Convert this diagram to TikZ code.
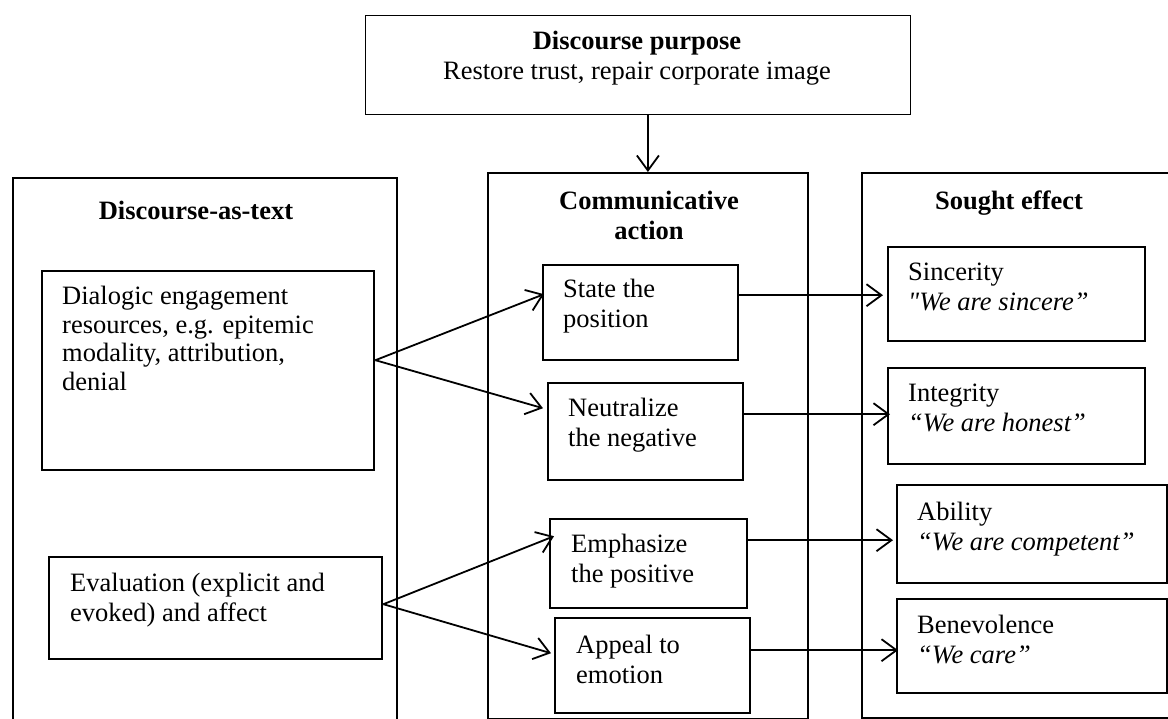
\documentclass[tikz,border=0pt]{standalone}
\usepackage{fontspec}
\setmainfont{Liberation Serif}
\newfontfamily\rawserif{Liberation Serif}
\usetikzlibrary{arrows.meta,calc}
\newcommand{\lcol}[1]{\begin{tabular}[t]{@{}l@{}}#1\end{tabular}}
\newcommand{\ccol}[1]{\begin{tabular}[t]{@{}c@{}}#1\end{tabular}}
\begin{document}
\begin{tikzpicture}[x=1pt,y=-1pt,
  every node/.style={font=\fontsize{26.5pt}{30pt}\selectfont},
  outer/.style={draw,line width=1.8pt,anchor=north west,inner sep=0pt},
  inner/.style={draw,line width=2.4pt,anchor=north west,inner sep=0pt},
  topbox/.style={draw,line width=1.2pt,anchor=north west,inner sep=0pt},
  txt/.style={inner sep=0pt,anchor=base west},
  head/.style={inner sep=0pt,anchor=base},
  arr/.style={line width=1.8pt,-{Straight Barb[length=15pt,width=22pt]}}]
\useasboundingbox (0,0) rectangle (1168,719);
\fill[white] (0,0) rectangle (1168,719);
\clip (0,0) rectangle (1168,719);
% boxes
\node[topbox,minimum width=545pt,minimum height=99pt] (top) at (365,15) {};
\node[outer,minimum width=384pt,minimum height=553pt] (lo) at (12,177) {};
\node[outer,minimum width=320pt,minimum height=546pt] (ca) at (487,172) {};
\node[outer,minimum width=319pt,minimum height=545pt] (se) at (861,172) {};
\node[inner,minimum width=332pt,minimum height=199pt] (dial) at (41,270) {};
\node[inner,minimum width=333pt,minimum height=102pt] (eval) at (48,556) {};
\node[inner,minimum width=195pt,minimum height=95pt] (st) at (542,264) {};
\node[inner,minimum width=195pt,minimum height=97pt] (neu) at (547,382) {};
\node[inner,minimum width=197pt,minimum height=89pt] (emp) at (549,518) {};
\node[inner,minimum width=195pt,minimum height=95pt] (app) at (554,617) {};
\node[inner,minimum width=257pt,minimum height=94pt] (sin) at (887,246) {};
\node[inner,minimum width=257pt,minimum height=96pt] (int) at (887,367) {};
\node[inner,minimum width=270pt,minimum height=98pt] (abi) at (896,484) {};
\node[inner,minimum width=270pt,minimum height=94pt] (ben) at (896,598) {};
% texts
\node[head] (ttop) at (637,50) {\ccol{\textbf{Discourse purpose}\\Restore trust, repair corporate image}};
\node[head] (tlo) at (196,220) {\textbf{Discourse-as-text}};
\node[head] (tca) at (649,210) {\ccol{\textbf{Communicative}\\\textbf{action}}};
\node[head] (tse) at (1009,210) {\textbf{Sought effect}};
\node[txt,font=\fontsize{26.5pt}{28.5pt}\selectfont] (tdial) at (62,305) {\lcol{Dialogic engagement\\resources, e.g. epitemic\\modality, attribution,\\denial}};
\node[txt] (teval) at (70,591) {\lcol{Evaluation (explicit and\\evoked) and affect}};
\node[txt] (tst) at (563,298) {\lcol{State the\\position}};
\node[txt] (tneu) at (568,417) {\lcol{Neutralize\\the negative}};
\node[txt] (temp) at (571,552) {\lcol{Emphasize\\the positive}};
\node[txt] (tapp) at (576,653) {\lcol{Appeal to\\emotion}};
\node[txt] (tsin) at (908,281) {\lcol{Sincerity\\\textit{{\rawserif\itshape\char34}We are sincere”}}};
\node[txt] (tint) at (908,402) {\lcol{Integrity\\\textit{“We are honest”}}};
\node[txt] (tabi) at (917,520) {\lcol{Ability\\\textit{“We are competent”}}};
\node[txt] (tben) at (917,633) {\lcol{Benevolence\\\textit{“We care”}}};
% connectors
\draw[arr] (top.south -| ca.north) -- (ca.north);
\draw[arr] ([yshift=10.5pt]dial.east) -- ([xshift=2pt,yshift=18.5pt]st.west);
\draw[arr] ([yshift=10.5pt]dial.east) -- ([xshift=-4pt,yshift=23.5pt]neu.west);
\draw[arr] ([yshift=4pt]eval.east) -- ([xshift=5pt,yshift=27.5pt]emp.west);
\draw[arr] ([yshift=4pt]eval.east) -- ([xshift=-3pt,yshift=12.5pt]app.west);
\coordinate (c1) at ([xshift=-4pt,yshift=-1pt]sin.west);
\coordinate (c2) at ([xshift=3pt,yshift=2pt]int.west);
\coordinate (c3) at ([xshift=-3pt,yshift=-6pt]abi.west);
\coordinate (c4) at ([xshift=2pt,yshift=-4pt]ben.west);
\draw[arr] (st.east |- c1) -- (c1);
\draw[arr] (neu.east |- c2) -- (c2);
\draw[arr] (emp.east |- c3) -- (c3);
\draw[arr] (app.east |- c4) -- (c4);
\end{tikzpicture}
\end{document}
